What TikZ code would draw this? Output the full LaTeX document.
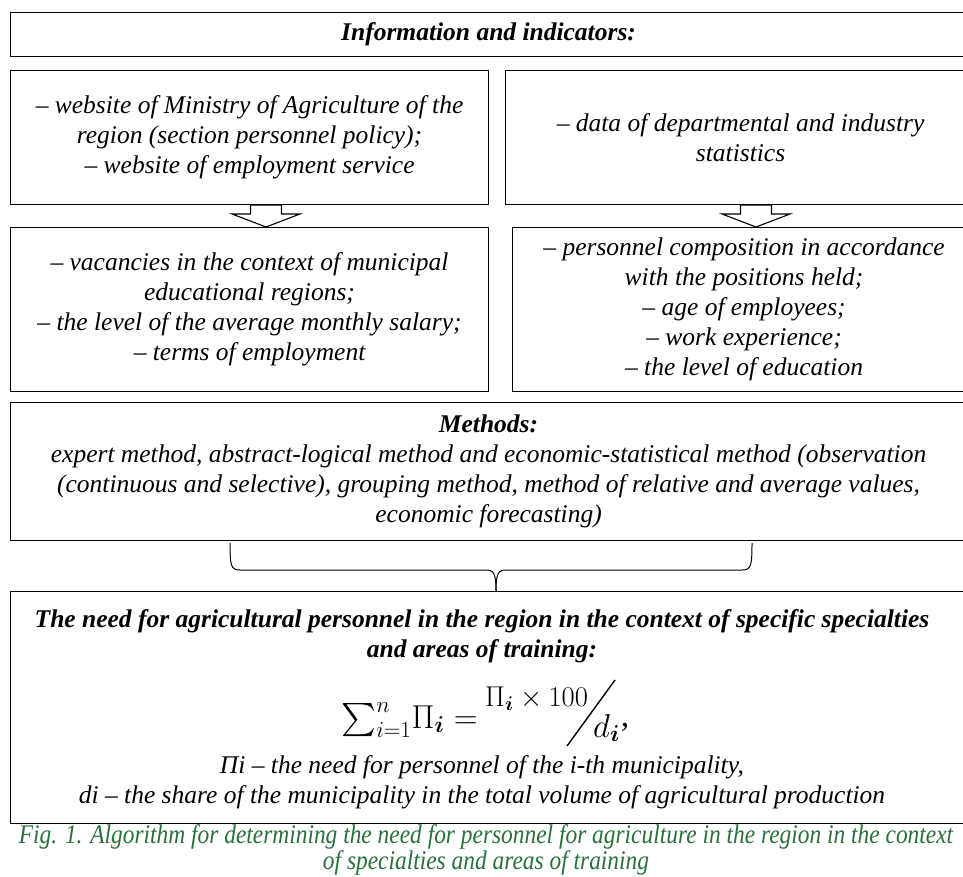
\documentclass[tikz,border=0pt]{standalone}
\usepackage{amsmath}
\usepackage{graphicx}
\usepackage{fontspec}
\setmainfont{Liberation Serif}
\newfontfamily\capfont[FakeStretch=0.87]{Liberation Serif}
\definecolor{capgreen}{RGB}{40,112,60}

\begin{document}
\begin{tikzpicture}[x=1pt,y=-1pt,
  box/.style={draw,line width=1.1pt,anchor=north west,inner sep=0pt,align=center,
    font=\itshape\fontsize{25.5}{30}\selectfont},
  txt/.style={align=center,inner sep=0pt,font=\itshape\fontsize{25.5}{30}\selectfont},
  formula/.style={inner sep=0pt,font=\fontsize{24}{28}\selectfont},
  caption/.style={align=center,inner sep=0pt,text=capgreen,font=\capfont\itshape\fontsize{26.9}{24.5}\selectfont},
  blockdown/.pic={\draw[line width=1.1pt,fill=white] (-15.5,0) -- (15.5,0) -- (15.5,9) -- (34,9) -- (0,22) -- (-34,9) -- (-15.5,9) -- cycle;}]
  \useasboundingbox (0,0) rectangle (963,876);
  \node[box,minimum width=956pt,minimum height=44pt] (info) at (10,12) {\bfseries Information and indicators:};
  \node[box,minimum width=478pt,minimum height=134pt] (web) at (10,70) {-- website of Ministry of Agriculture of the\\ region (section personnel policy);\\ -- website of employment service};
  \node[box,minimum width=470pt,minimum height=134pt] (stat) at (505,70) {-- data of departmental and industry\\ statistics};
  \node[box,minimum width=478pt,minimum height=164pt] (vac) at (10,227) {-- vacancies in the context of municipal\\ educational regions;\\ -- the level of the average monthly salary;\\ -- terms of employment};
  \node[box,minimum width=463pt,minimum height=164pt] (pers) at (512,227) {-- personnel composition in accordance\\ with the positions held;\\ -- age of employees;\\ -- work experience;\\ -- the level of education};
  \node[box,minimum width=956pt,minimum height=138pt] (methods) at (10,402) {{\bfseries Methods:}\\ expert method, abstract-logical method and economic-statistical method (observation\\ (continuous and selective), grouping method, method of relative and average values,\\ economic forecasting)};
  \node[box,minimum width=956pt,minimum height=232pt] (need) at (10,591) {};
  \pic at (266,205) {blockdown};
  \pic at (756,205) {blockdown};
  % brace between methods and need
  \coordinate (tip) at (496,591);
  \draw[line width=1pt] (230,543) .. controls (230,566) and (231,570) .. (240,570) -- (486,570) .. controls (494,570) and (496,574) .. (tip);
  \draw[line width=1pt] (752,543) .. controls (752,566) and (751,570) .. (742,570) -- (506,570) .. controls (498,570) and (496,574) .. (tip);
  \node[txt,font=\bfseries\itshape\fontsize{25.5}{30}\selectfont] (needtitle) at (482,636) {The need for agricultural personnel in the region in the context of specific specialties\\ and areas of training:};
  \node[formula,anchor=base east] (sum) at (487,728) {\scalebox{1.33}{$\sum\nolimits_{i=1}^{n}\!\Pi_{\boldsymbol{i}}={}$}};
  \node[formula,anchor=base west] (num) at (485,706) {\scalebox{1.15}{$\Pi_{\boldsymbol{i}}\times100$}};
  \draw[line width=1.4pt] (567,746) -- (615,680);
  \node[formula,anchor=base west] (den) at (593,737) {\scalebox{1.33}{$d_{\boldsymbol{i}}$}};
  \node[formula,anchor=base west] (comma) at (621,726) {\scalebox{1.33}{,}};
  \node[txt] (notes) at (482,782) {Πi -- the need for personnel of the i-th municipality,\\ di -- the share of the municipality in the total volume of agricultural production};
  \node[caption] (cap) at (486,850) {Fig. 1. Algorithm for determining the need for personnel for agriculture in the region in the context\\ of specialties and areas of training};
\end{tikzpicture}
\end{document}
